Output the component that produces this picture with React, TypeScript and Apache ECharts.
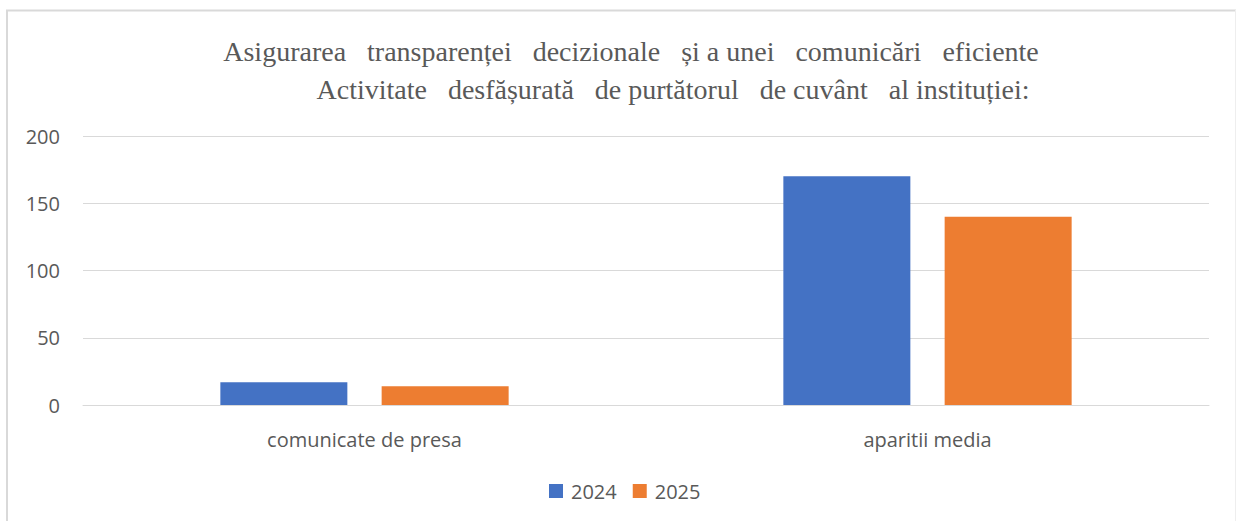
import React, { useEffect, useRef } from "react";
import * as echarts from "echarts";

const categories = ["comunicate de presa", "aparitii media"];
const series2024 = [17, 170];
const series2025 = [14, 140];
const seriesNames = ["2024", "2025"];
const yTicks = { min: 0, max: 200, interval: 50 };
const titleLine1 = "Asigurarea   transparenței   decizionale   și a unei   comunicări   eficiente";
const titleLine2 = "Activitate   desfășurată   de purtătorul   de cuvânt   al instituției:";

export default function App() {
  const ref = useRef<HTMLDivElement>(null);
  useEffect(() => {
    const chart = echarts.init(ref.current!, null, { renderer: "svg" });
    const labelFont = { fontFamily: "Open Sans", fontSize: 20, color: "#595959" };
    chart.setOption({
      animation: false,
      backgroundColor: "#ffffff",
      title: [
        {
          text: titleLine1,
          left: 626,
          top: 32,
          textAlign: "center",
          textStyle: { fontFamily: "Liberation Serif", fontSize: 28, fontWeight: "normal", color: "#595959" },
        },
        {
          text: titleLine2,
          left: 668,
          top: 70,
          textAlign: "center",
          textStyle: { fontFamily: "Liberation Serif", fontSize: 28, fontWeight: "normal", color: "#595959" },
        },
      ],
      graphic: [
        { type: "line", shape: { x1: 6, y1: 10.5, x2: 1236, y2: 10.5 }, style: { stroke: "#d9d9d9", lineWidth: 2 } },
        { type: "line", shape: { x1: 7, y1: 10, x2: 7, y2: 521 }, style: { stroke: "#d9d9d9", lineWidth: 2 } },
        { type: "line", shape: { x1: 1235.5, y1: 10, x2: 1235.5, y2: 521 }, style: { stroke: "#eeeeee", lineWidth: 1 } },
      ],
      legend: {
        data: seriesNames,
        bottom: 15,
        left: 544,
        itemWidth: 14,
        itemHeight: 14,
        itemGap: 16,
        icon: "rect",
        textStyle: { ...labelFont, padding: [0, 0, 0, 3] },
      },
      grid: { left: 83, right: 27, top: 136, bottom: 116, containLabel: false },
      xAxis: {
        type: "category",
        data: categories,
        axisLine: { lineStyle: { color: "#d9d9d9", width: 1 } },
        axisTick: { show: false },
        axisLabel: { ...labelFont, margin: 24 },
      },
      yAxis: {
        type: "value",
        min: yTicks.min,
        max: yTicks.max,
        interval: yTicks.interval,
        axisLine: { show: false },
        axisTick: { show: false },
        splitLine: { lineStyle: { color: "#d9d9d9", width: 1 } },
        axisLabel: { ...labelFont, margin: 23 },
      },
      series: [
        {
          name: seriesNames[0],
          type: "bar",
          data: series2024,
          barWidth: 127,
          barGap: "27%",
          itemStyle: { color: "#4472C4" },
        },
        {
          name: seriesNames[1],
          type: "bar",
          data: series2025,
          barWidth: 127,
          itemStyle: { color: "#ED7D31" },
        },
      ],
    });
    return () => chart.dispose();
  }, []);
  return (
    <div style={{ position: "fixed", left: 0, top: 0, width: 1236, height: 521, background: "#fff" }}>
      <div ref={ref} style={{ width: 1236, height: 521 }} />
    </div>
  );
}
